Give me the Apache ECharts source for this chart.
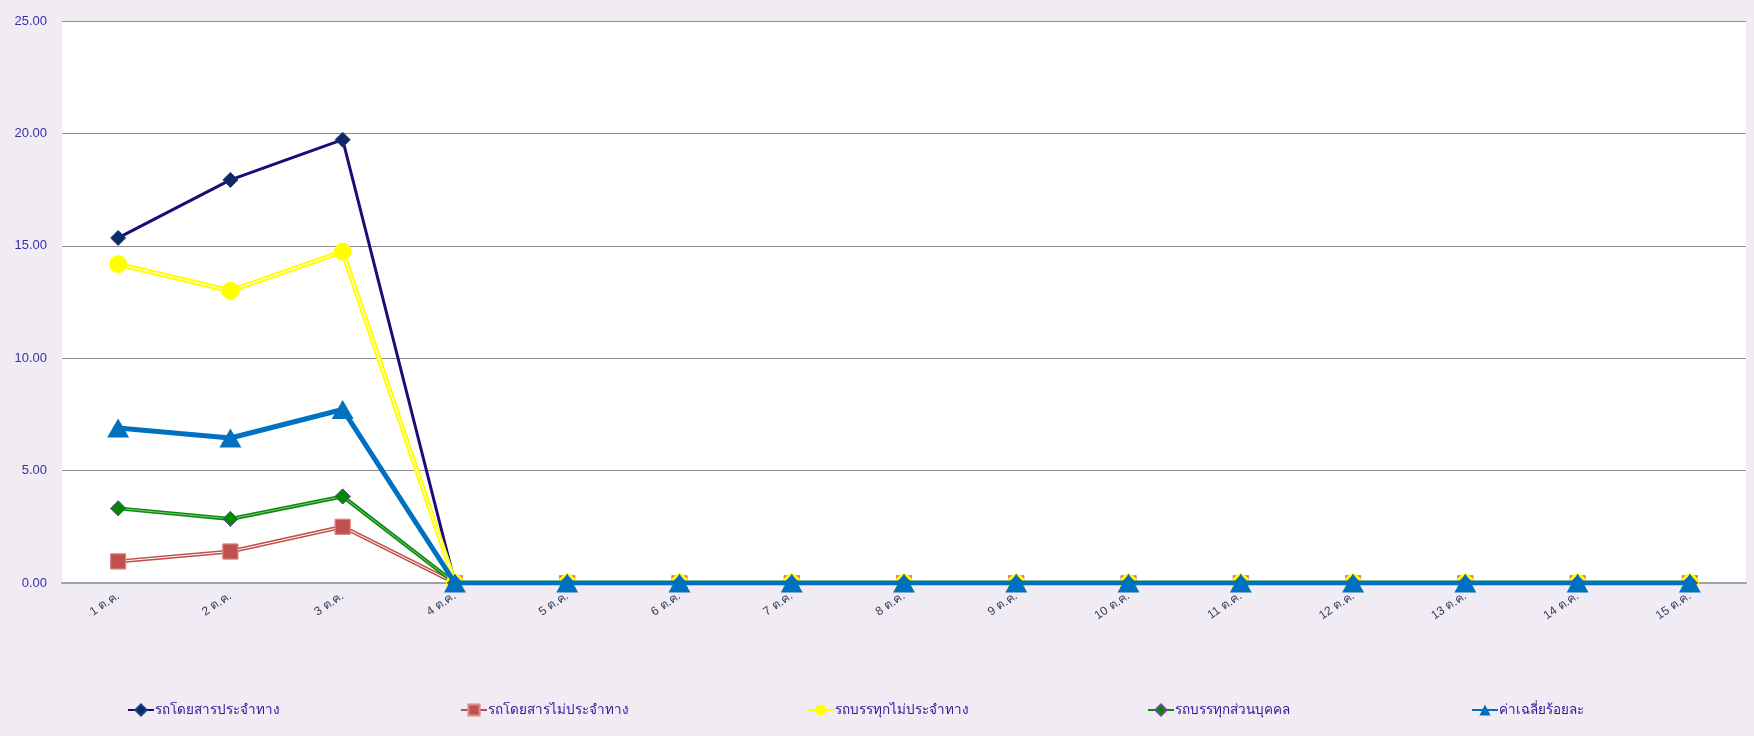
<!DOCTYPE html>
<html lang="th">
<head>
  <meta charset="UTF-8">
  <title>สถิติรายวัน</title>
  <script src="https://cdn.jsdelivr.net/npm/echarts@6/dist/echarts.min.js"></script>
  <style>
    html, body { margin: 0; padding: 0; background: #f1ecf3; }
  </style>
</head>
<body>
  <div id="chart" style="width:1754px;height:736px"></div>

  <script>
    // ข้อมูล (อ่านจากภาพ)
    var days = ['1 ต.ค.', '2 ต.ค.', '3 ต.ค.', '4 ต.ค.', '5 ต.ค.', '6 ต.ค.', '7 ต.ค.', '8 ต.ค.',
      '9 ต.ค.', '10 ต.ค.', '11 ต.ค.', '12 ต.ค.', '13 ต.ค.', '14 ต.ค.', '15 ต.ค.']
    var busFixed = [15.35, 17.93, 19.72, 0, 0, 0, 0, 0, 0, 0, 0, 0, 0, 0, 0]
    var busNonFixed = [0.96, 1.40, 2.50, 0, 0, 0, 0, 0, 0, 0, 0, 0, 0, 0, 0]
    var truckNonFixed = [14.18, 13.00, 14.74, 0, 0, 0, 0, 0, 0, 0, 0, 0, 0, 0, 0]
    var truckPrivate = [3.32, 2.85, 3.85, 0, 0, 0, 0, 0, 0, 0, 0, 0, 0, 0, 0]
    var avgPercent = [6.90, 6.45, 7.72, 0, 0, 0, 0, 0, 0, 0, 0, 0, 0, 0, 0]
    var yTicks = { min: 0, max: 25, interval: 5 }

    var names = ['รถโดยสารประจำทาง', 'รถโดยสารไม่ประจำทาง', 'รถบรรทุกไม่ประจำทาง', 'รถบรรทุกส่วนบุคคล', 'ค่าเฉลี่ยร้อยละ']
    var legendLeft = [122, 455, 802, 1142, 1466]

    var chart = echarts.init(document.getElementById('chart'))

    // เส้นคู่ (double line) : เส้นหนา + เส้นบางทับตรงกลาง
    function innerLine(data, symbol, size, color, borderColor, midColor) {
      return {
        type: 'line', data: data, silent: true, symbol: symbol, symbolSize: size,
        itemStyle: { color: color, borderColor: borderColor || color, borderWidth: 1 },
        lineStyle: { color: midColor || '#ffffff', width: 1 }, z: 2
      }
    }

    // legend แยกตำแหน่งแต่ละรายการ
    var legends = names.map(function (n, i) {
      return {
        data: [n],
        bottom: 14,
        left: legendLeft[i],
        itemWidth: 26,
        itemHeight: 14,
        textStyle: { color: '#30189a', fontSize: 13.5, padding: [0, 0, 0, -4] }
      }
    })

    var option = {
      backgroundColor: '#f1ecf3',
      animation: false,
      grid: { left: 62, right: 8, top: 21, bottom: 153, containLabel: false, show: true, backgroundColor: '#ffffff', borderWidth: 0 },
      legend: legends,
      xAxis: {
        type: 'category',
        data: days,
        boundaryGap: true,
        axisLine: { lineStyle: { color: '#a0a0a0', width: 2 } },
        axisTick: { show: false },
        axisLabel: { rotate: 34, color: '#2f3b5c', fontSize: 12, margin: 12, interval: 0 }
      },
      yAxis: {
        type: 'value',
        min: yTicks.min, max: yTicks.max, interval: yTicks.interval,
        axisLine: { show: false },
        axisTick: { show: false },
        splitLine: { lineStyle: { color: '#8c8c8c', width: 1 } },
        axisLabel: { color: '#3a2ea8', fontSize: 13, margin: 15, formatter: function (v) { return v.toFixed(2) } }
      },
      series: [
        {
          name: names[0], type: 'line', data: busFixed, symbol: 'diamond', symbolSize: 15,
          itemStyle: { color: '#0b2a66', borderColor: '#1b3f80', borderWidth: 1 },
          lineStyle: { color: '#1d0b78', width: 3 }, z: 2
        },
        {
          name: names[1], type: 'line', data: busNonFixed, symbol: 'rect', symbolSize: 15,
          itemStyle: { color: '#c0504d', borderColor: '#d98c8a', borderWidth: 1 },
          lineStyle: { color: '#c0504d', width: 4 }, z: 2
        },
        innerLine(busNonFixed, 'rect', 15, '#c0504d', '#d98c8a'),
        {
          name: names[2], type: 'line', data: truckNonFixed, symbol: 'circle', symbolSize: 17,
          itemStyle: { color: '#ffff00' },
          lineStyle: { color: '#ffff00', width: 5 }, z: 2
        },
        innerLine(truckNonFixed, 'circle', 17, '#ffff00'),
        {
          name: names[3], type: 'line', data: truckPrivate, symbol: 'diamond', symbolSize: 15,
          itemStyle: { color: '#008a00', borderColor: '#6a4a9a', borderWidth: 1 },
          lineStyle: { color: '#0a8a0a', width: 4 }, z: 2
        },
        innerLine(truckPrivate, 'diamond', 15, '#008a00', '#6a4a9a', '#7ec87e'),
        {
          name: names[4], type: 'line', data: avgPercent, symbol: 'triangle', symbolSize: [22, 19],
          itemStyle: { color: '#0070c0' },
          lineStyle: { color: '#0070c0', width: 5 }, z: 3
        }
      ]
    }
    chart.setOption(option)
  </script>
</body>
</html>
